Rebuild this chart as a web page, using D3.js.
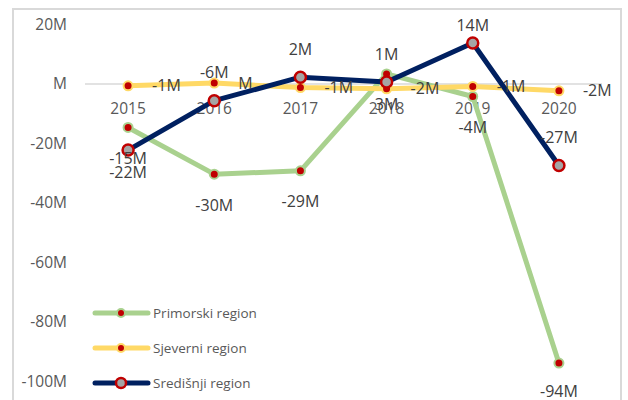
<!DOCTYPE html>
<html>
<head>
<meta charset="utf-8">
<script src="https://cdn.jsdelivr.net/npm/d3@7"></script>
<style>
  html, body { margin: 0; padding: 0; background: #fff; }
  svg { display: block; }
  text { font-family: "Open Sans", sans-serif; fill: #595959; }
</style>
</head>
<body>
<svg id="chart" width="628" height="400"></svg>
<script>
// ---- data ----
const years = ["2015", "2016", "2017", "2018", "2019", "2020"];
const seriesNames = ["Primorski region", "Sjeverni region", "Središnji region"];
const primorski = [-14.6, -30.3, -29.2, 3.4, -4.2, -93.8];
const sjeverni  = [-0.6, 0.3, -1.2, -1.6, -0.8, -2.3];
const sredisnji = [-22.2, -5.6, 2.3, 0.7, 13.8, -27.4];
const yTicks = [20, 0, -20, -40, -60, -80, -100];
// label placement: b = below, a = above, r = right
const primorskiPos = ["b", "b", "b", "b", "b", "b"];
const sjeverniPos  = ["r", "r", "r", "r", "r", "r"];
const sredisnjiPos = ["b", "a", "a", "a", "a", "a"];

const fmt = v => (Math.round(v) === 0 ? "" : String(Math.round(v))) + "M";

const svg = d3.select("#chart");

// frame
svg.append("rect").attr("x", 13).attr("y", 9).attr("width", 608).attr("height", 400)
  .attr("fill", "none").attr("stroke", "#d9d9d9").attr("stroke-width", 2);

const x = d3.scalePoint().domain(years).range([85, 602]).padding(0.5);
const y = d3.scaleLinear().domain([-100, 20]).range([381.5, 24.5]);

// y tick labels
svg.append("g").selectAll("text").data(yTicks).join("text")
  .attr("x", 67).attr("y", d => y(d)).attr("dy", "0.35em")
  .attr("text-anchor", "end").style("font-size", "15.5px")
  .text(d => fmt(d));

// zero line (category axis)
svg.append("line").attr("x1", 85).attr("x2", 602).attr("y1", y(0)).attr("y2", y(0))
  .attr("stroke", "#d9d9d9").attr("stroke-width", 1.5);

// x labels
svg.append("g").selectAll("text").data(years).join("text")
  .attr("x", d => x(d)).attr("y", y(0) + 25).attr("dy", "0.35em")
  .attr("text-anchor", "middle").style("font-size", "15.5px")
  .text(d => d);

const series = [
  { name: seriesNames[0], values: primorski, pos: primorskiPos, color: "#a9d18e", mFill: "#c00000", mStroke: "#a9d18e", r: 4.5, sw: 2, below: 31, above: 28 },
  { name: seriesNames[1], values: sjeverni, pos: sjeverniPos, color: "#ffd966", mFill: "#c00000", mStroke: "#ffd966", r: 4.5, sw: 2, below: 31, above: 28 },
  { name: seriesNames[2], values: sredisnji, pos: sredisnjiPos, color: "#002060", mFill: "#a5a5a5", mStroke: "#c00000", r: 5.5, sw: 2.5, below: 22, above: 28 }
];

const line = d3.line().x((d, i) => x(years[i])).y(d => y(d));

series.forEach(s => {
  const g = svg.append("g");
  g.append("path").datum(s.values).attr("d", line)
    .attr("fill", "none").attr("stroke", s.color).attr("stroke-width", 5)
    .attr("stroke-linejoin", "round");
  g.selectAll("circle").data(s.values).join("circle")
    .attr("cx", (d, i) => x(years[i])).attr("cy", d => y(d)).attr("r", s.r)
    .attr("fill", s.mFill).attr("stroke", s.mStroke).attr("stroke-width", s.sw);
});

// data labels on top
series.forEach(s => {
  svg.append("g").selectAll("text").data(s.values).join("text")
    .attr("x", (d, i) => x(years[i]) + (s.pos[i] === "r" ? 24 : 0))
    .attr("y", (d, i) => {
      const p = s.pos[i];
      let cy = y(d);
      if (p === "b") cy += s.below;
      else if (p === "a") cy -= s.above;
      return Math.min(Math.max(cy, 25), 391);
    })
    .attr("dy", "0.35em")
    .attr("text-anchor", (d, i) => s.pos[i] === "r" ? "start" : "middle")
    .style("font-size", "16px").style("fill", "#404040")
    .text(d => fmt(d));
});

// legend
const legY = [313, 348, 383];
series.forEach((s, i) => {
  const g = svg.append("g");
  g.append("line").attr("x1", 95).attr("x2", 148).attr("y1", legY[i]).attr("y2", legY[i])
    .attr("stroke", s.color).attr("stroke-width", 5).attr("stroke-linecap", "round");
  g.append("circle").attr("cx", 121).attr("cy", legY[i]).attr("r", s.r - 0.5)
    .attr("fill", s.mFill).attr("stroke", s.mStroke).attr("stroke-width", s.sw);
  g.append("text").attr("x", 153).attr("y", legY[i]).attr("dy", "0.35em")
    .style("font-size", "13.5px").text(s.name);
});
</script>
</body>
</html>
